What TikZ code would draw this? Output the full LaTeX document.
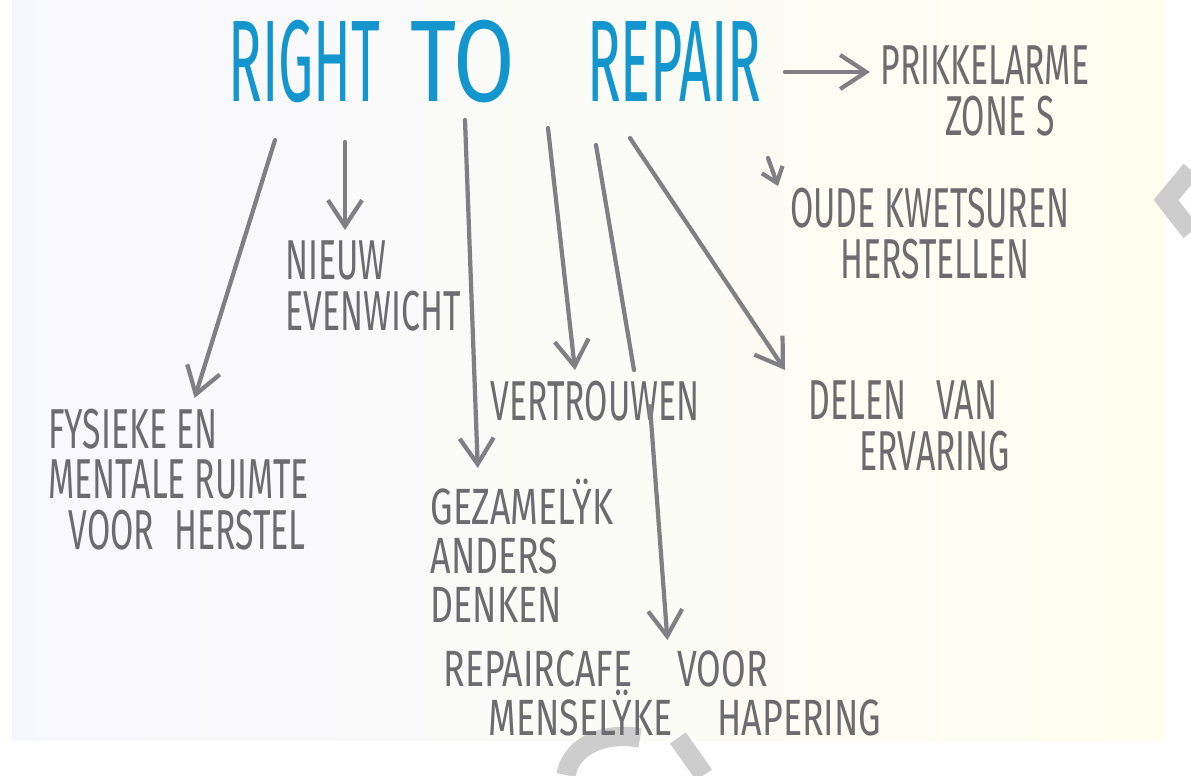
\documentclass[tikz,border=0pt]{standalone}
\usepackage{fontspec}
\setmainfont{Fira Sans}[FakeStretch=0.6]
\newfontfamily\titelfont{Fira Sans}[FakeStretch=0.48]
\newfontfamily\krapfont{Fira Sans}[FakeStretch=0.7]
\usetikzlibrary{arrows.meta,calc}
\definecolor{rtr_blauw}{RGB}{18,150,205}
\definecolor{rtr_grijs}{RGB}{108,108,112}
\definecolor{rtr_lijn}{RGB}{128,128,132}
\definecolor{rtr_wm}{RGB}{205,205,205}
\tikzstyle{titel}=[text=rtr_blauw,font=\titelfont\fontsize{33}{33}\selectfont,inner sep=0pt]
\tikzstyle{idee}=[text=rtr_grijs,font=\fontsize{16}{14.5}\selectfont,align=left,
  anchor=north west,inner sep=0pt,outer sep=3pt]
\tikzstyle{krap}=[font=\krapfont\fontsize{14.5}{14}\selectfont]
\tikzstyle{pijl}=[draw=rtr_lijn,line width=1.2pt,line cap=round,
  -{Straight Barb[length=2.6mm,width=3.4mm]}]
\tikzstyle{kort}=[-{Straight Barb[length=1.4mm,width=2.2mm]}]
\tikzstyle{lijn}=[draw=rtr_lijn,line width=1.2pt,line cap=round]
\tikzstyle{wm}=[draw=rtr_wm,line width=5.5pt]

\begin{document}
\begin{tikzpicture}[x=0.01cm,y=-0.01cm]
        \useasboundingbox (0,0) rectangle (1191,775);
        \shade[left color=blue!3!white,right color=yellow!6!white] (12,0) rectangle (1165,740);
        \draw[wm] (1191,170) -- (1166,200) -- (1191,232);
        \draw[wm] (566,775) .. controls (572,742) and (610,732) .. (640,738);
        \draw[wm] (678,738) -- (704,775);
        \node [style=titel] (rtr) at (495,62) {RIGHT\hspace{0.3cm}\scalebox{1.6}[1]{TO}\hspace{0.72cm}REPAIR};
        \node [style=idee,align=center] (prik) at (870,35) {PRIKKELARME\\\hspace*{0.3cm}ZONE\hspace{0.1cm}S};
        \node [style=idee,align=center,outer sep=0pt] (oude) at (790,188) {OUDE KWETSUREN\\\hspace*{0.1cm}HERSTELLEN};
        \node [style=idee] (nieuw) at (275,230) {NIEUW\\EVENWICHT};
        \node [style=idee] (fys) at (38,398) {FYSIEKE EN\\MENTALE RUIMTE\\\hspace*{0.2cm}VOOR\hspace{0.2cm}HERSTEL};
        \node [style=idee] (vert) at (480,370) {VERTROUWEN};
        \node [style=idee,style=krap] (gez) at (420,468) {GEZAMELŸK\\ANDERS\\DENKEN};
        \node [style=idee,align=center] (delen) at (785,370) {DELEN\hspace{0.3cm}VAN\\\hspace*{0.64cm}ERVARING};
        \node [style=idee,style=krap] (rep) at (433,640) {REPAIRCAFE\hspace{0.45cm}VOOR\\\hspace*{0.45cm}MENSELŸKE\hspace{0.45cm}HAPERING};
        \coordinate (a_fys) at (275,140);
        \coordinate (a_nieuw) at (345,142);
        \coordinate (a_gez) at (465,120);
        \coordinate (a_vert) at (548,128);
        \coordinate (a_lijn) at (596,145);
        \coordinate (a_delen) at (630,138);
        \coordinate (a_prik) at (785,72);
        \coordinate (a_oude) at (768,158);
        \draw [style=pijl] (a_fys) to ($(fys.north)+(16,0)$);
        \draw [style=pijl] (a_nieuw) to (a_nieuw |- nieuw.north);
        \draw [style=pijl] (a_gez) to ($(gez.north)+(-44,0)$);
        \draw [style=pijl] (a_vert) to ($(vert.north)+(-20,0)$);
        \draw [style=lijn] (a_lijn) to ($(vert.north)+(39,0)$);
        \draw [style=pijl] ($(vert.south)+(55,-25)$) to ($(rep.north)+(5,0)$);
        \draw [style=pijl] (a_delen) to (delen.north west);
        \draw [style=pijl] (a_prik) to (a_prik -| prik.west);
        \draw [style=pijl,style=kort] (a_oude) to ($(oude.north west)+(-12,-2)$);
    \end{tikzpicture}
\end{document}
